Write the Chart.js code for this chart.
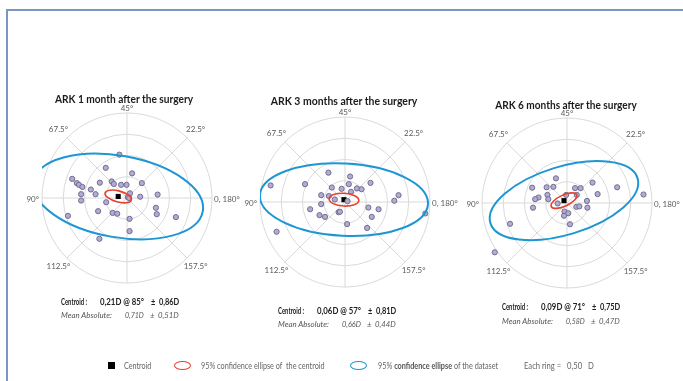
<!DOCTYPE html>
<html>
<head>
<meta charset="utf-8">
<script src="https://cdn.jsdelivr.net/npm/chart.js@4.4.1/dist/chart.umd.min.js"></script>
<style>
  html, body { margin: 0; padding: 0; background: #fff; width: 683px; height: 381px; overflow: hidden; }
  #page { position: relative; width: 683px; height: 381px; }
  #frame { position: absolute; left: 6px; top: 9px; width: 700px; height: 400px;
           border-top: 2px solid #7a98bf; border-left: 2px solid #7a98bf; }
  canvas { position: absolute; }
  .t { position: absolute; white-space: pre; line-height: 1; }
  .title { font: bold 12px Lato, "Open Sans", sans-serif; color: #1a1a1a; transform-origin: center center; }
  .stat { font: bold 8.5px Lato, "Open Sans", sans-serif; color: #222; transform-origin: left center; }
  .mean { font: italic 8.5px Lato, "Open Sans", sans-serif; color: #555; transform-origin: left center; }
  .leg { font: 8.5px Lato, "Open Sans", sans-serif; color: #666; transform-origin: left center; }
</style>
</head>
<body>
<div id="page">
  <div id="frame"></div>
</div>
<script>
// Double-angle astigmatism plots: x = M·cos(2θ), y = M·sin(2θ), in dioptres.
const titles = ['ARK 1 month after the surgery', 'ARK 3 months after the surgery', 'ARK 6 months after the surgery'];

// Individual eyes, 1 month
const m1X = [-0.18,-0.50,0.12,-1.29,-1.18,-1.13,-1.05,-0.64,-0.36,-0.31,-0.14,-0.01,0.35,-0.85,-0.74,-1.08,-1.08,0.07,0.02,0.05,0.31,0.72,-0.49,0.68,0.70,1.15,-0.68,-0.34,-0.23,0.06,0.06,-1.39,-0.65];
const m1Y = [1.02,0.71,0.58,0.45,0.35,0.31,0.26,0.36,0.39,0.33,0.31,0.31,0.35,0.20,0.09,0.09,-0.06,0.11,0.02,0.00,0.03,0.08,-0.10,-0.23,-0.38,-0.45,-0.31,-0.35,-0.37,-0.49,-0.78,-0.42,-0.96];
// Individual eyes, 3 months
const m3X = [-1.75,-0.39,-0.94,0.12,0.60,-0.31,-0.08,0.09,0.28,0.39,0.14,1.26,1.16,1.89,-0.56,-0.38,-0.24,-0.56,-0.82,0.06,0.55,0.79,0.63,-0.60,-0.47,-0.15,-0.12,0.05,0.52,-1.61];
const m3Y = [0.39,0.69,0.42,0.60,0.45,0.34,0.31,0.42,0.32,0.30,0.24,0.16,0.03,-0.27,0.16,0.14,0.06,-0.05,-0.17,0.02,-0.13,-0.17,-0.35,-0.31,-0.35,-0.24,-0.23,-0.52,-0.61,-0.70];
// Individual eyes, 6 months
const m6X = [-0.26,-0.82,-0.48,-0.32,0.19,0.32,0.60,1.18,1.80,0.72,-0.67,-0.75,-0.46,-0.44,-0.02,0.23,-0.80,-0.22,0.22,0.29,0.47,0.48,-0.06,0.03,-0.07,0.07,-1.34,-1.70];
const m6Y = [0.58,0.36,0.37,0.38,0.35,0.35,0.48,0.37,0.20,0.21,0.13,0.09,0.19,0.09,0.19,0.19,-0.11,-0.01,-0.09,-0.08,0.05,-0.11,-0.20,-0.24,-0.30,-0.50,-0.49,-1.16];

// Centroid magnitude (D), axis (deg) and spread (D)
const centroidMag = [0.21, 0.06, 0.09];
const centroidAxis = [85, 57, 71];
const centroidSd = [0.86, 0.81, 0.75];
// Mean absolute astigmatism and its SD (D)
const meanAbs = [0.71, 0.66, 0.58];
const meanAbsSd = [0.51, 0.44, 0.47];

// 95% confidence ellipses: semi-axes (D) and tilt (deg, counter-clockwise)
const dataEllA = [2.02, 1.98, 1.81];
const dataEllB = [0.96, 0.85, 0.80];
const dataEllTilt = [-10, -3, 17];
const cenEllA = [0.32, 0.35, 0.33];
const cenEllB = [0.13, 0.15, 0.13];
const cenEllTilt = [-15, -3, 25];

// Polar grid
const ringStep = 0.5;
const ringCount = 4;
const axisLabels = ['0, 180°', '22.5°', '45°', '67.5°', '90°', '112.5°', '157.5°'];
const axisLabelDeg = [0, 22.5, 45, 67.5, 90, 112.5, 157.5];

const ptsX = [m1X, m3X, m6X];
const ptsY = [m1Y, m3Y, m6Y];

// layout of the three panels
const centers = [[127, 197.5], [345, 202], [567, 203]];
const titlePos = [[124, 98, 138], [344, 100, 147], [566, 104, 142]];
const statPos = [[61, 302, 315], [278, 311, 324], [502, 307, 321]];
const R = 85, PAD = 45;

const fmt = v => v.toFixed(2).replace('.', ',');
const page = document.getElementById('page');

// place a text run; when a width is given the run is condensed to that width
function addText(cls, x, y, txt, width, centered) {
  const d = document.createElement('div');
  d.className = 't ' + cls;
  d.style.left = x + 'px';
  d.style.top = y + 'px';
  if (txt.indexOf('<') >= 0) d.innerHTML = txt; else d.textContent = txt;
  page.appendChild(d);
  const s = width ? width / d.offsetWidth : 1;
  d.style.transform = (centered ? 'translate(-50%, -50%)' : 'translateY(-50%)') + ' scaleX(' + s + ')';
  return d;
}

const polarGrid = {
  id: 'polarGrid',
  beforeDatasetsDraw(chart) {
    const { ctx, scales: { x, y } } = chart;
    const cx = x.getPixelForValue(0), cy = y.getPixelForValue(0);
    const ppd = x.getPixelForValue(1) - cx;
    const outer = ringStep * ringCount * ppd;
    ctx.save();
    ctx.strokeStyle = '#d9d9d9';
    ctx.lineWidth = 1;
    for (let i = 1; i <= ringCount; i++) {
      ctx.beginPath();
      ctx.arc(cx, cy, ringStep * i * ppd, 0, Math.PI * 2);
      ctx.stroke();
    }
    for (let k = 0; k < 4; k++) {
      const a = k * Math.PI / 4;
      ctx.beginPath();
      ctx.moveTo(cx - outer * Math.cos(a), cy + outer * Math.sin(a));
      ctx.lineTo(cx + outer * Math.cos(a), cy - outer * Math.sin(a));
      ctx.stroke();
    }
    ctx.fillStyle = '#5a5a5a';
    ctx.font = '8px Lato, "Open Sans", sans-serif';
    axisLabels.forEach((lab, i) => {
      const a = axisLabelDeg[i] * 2 * Math.PI / 180;
      if (axisLabelDeg[i] === 0) {
        ctx.textAlign = 'left'; ctx.textBaseline = 'middle';
        ctx.fillText(lab, cx + outer + 2, cy + 1);
      } else if (axisLabelDeg[i] === 90) {
        ctx.textAlign = 'right'; ctx.textBaseline = 'middle';
        ctx.fillText(lab, cx - outer - 3, cy + 1);
      } else if (axisLabelDeg[i] === 45) {
        ctx.textAlign = 'center'; ctx.textBaseline = 'bottom';
        ctx.fillText(lab, cx, cy - outer - 1);
      } else {
        const rr = outer + 12;
        ctx.textAlign = 'center'; ctx.textBaseline = 'middle';
        ctx.fillText(lab, cx + rr * Math.cos(a), cy - rr * Math.sin(a));
      }
    });
    ctx.restore();
  },
  afterDatasetDraw(chart, args, opts) {
    if (args.index !== 0) return;
    const { ctx, chartArea, scales: { x, y } } = chart;
    const k = opts.panel;
    const ppd = x.getPixelForValue(1) - x.getPixelForValue(0);
    const a2 = centroidAxis[k] * 2 * Math.PI / 180;
    const ex = x.getPixelForValue(centroidMag[k] * Math.cos(a2));
    const ey = y.getPixelForValue(centroidMag[k] * Math.sin(a2));
    ctx.save();
    ctx.beginPath();
    ctx.rect(chartArea.left, chartArea.top, chartArea.right - chartArea.left, chartArea.bottom - chartArea.top);
    ctx.clip();
    const ell = (A, B, tilt, color, w) => {
      ctx.beginPath();
      ctx.ellipse(ex, ey, A * ppd, B * ppd, -tilt * Math.PI / 180, 0, Math.PI * 2);
      ctx.strokeStyle = color;
      ctx.lineWidth = w;
      ctx.stroke();
    };
    ell(dataEllA[k], dataEllB[k], dataEllTilt[k], '#1e96d3', 2);
    ell(cenEllA[k], cenEllB[k], cenEllTilt[k], '#e8402b', 1.6);
    ctx.restore();
  }
};

centers.forEach(([cx, cy], k) => {
  const cv = document.createElement('canvas');
  const size = 2 * (R + PAD);
  cv.width = size; cv.height = size;
  cv.style.left = (cx - R - PAD) + 'px';
  cv.style.top = (cy - R - PAD) + 'px';
  cv.style.width = size + 'px'; cv.style.height = size + 'px';
  page.appendChild(cv);
  const outerD = ringStep * ringCount;
  const a2 = centroidAxis[k] * 2 * Math.PI / 180;
  new Chart(cv, {
    type: 'scatter',
    data: {
      datasets: [
        {
          data: ptsX[k].map((v, i) => ({ x: v, y: ptsY[k][i] })),
          pointRadius: 2.6,
          backgroundColor: '#b1acd0',
          borderColor: '#716c93',
          borderWidth: 1
        },
        {
          data: [{ x: centroidMag[k] * Math.cos(a2), y: centroidMag[k] * Math.sin(a2) }],
          pointStyle: 'rect',
          pointRadius: 3.6,
          backgroundColor: '#000',
          borderColor: '#000',
          borderWidth: 0
        }
      ]
    },
    options: {
      responsive: false,
      animation: false,
      devicePixelRatio: 1,
      layout: { padding: PAD },
      scales: {
        x: { type: 'linear', min: -outerD, max: outerD, display: false },
        y: { type: 'linear', min: -outerD, max: outerD, display: false }
      },
      plugins: {
        legend: { display: false },
        tooltip: { enabled: false },
        polarGrid: { panel: k }
      },
      events: []
    },
    plugins: [polarGrid]
  });

  addText('title', titlePos[k][0], titlePos[k][1], titles[k], titlePos[k][2], true);
  const [sx, sy1, sy2] = statPos[k];
  addText('stat', sx, sy1, 'Centroid :', 26);
  addText('stat', sx + 39, sy1, fmt(centroidMag[k]) + 'D @ ' + centroidAxis[k] + '°', 44);
  addText('stat', sx + 90, sy1, '±  ' + fmt(centroidSd[k]) + 'D', 28);
  addText('mean', sx, sy2, 'Mean Absolute:', 51);
  addText('mean', sx + 64, sy2, fmt(meanAbs[k]) + 'D', 19);
  addText('mean', sx + 89, sy2, '±  ' + fmt(meanAbsSd[k]) + 'D', 29);
});

// legend row
const ly = 366;
const sq = document.createElement('div');
Object.assign(sq.style, { position: 'absolute', left: '108px', top: (ly - 4) + 'px', width: '7px', height: '7px', background: '#000' });
page.appendChild(sq);
addText('leg', 124, ly, 'Centroid', 27);
const ring = (cx, color) => {
  const e = document.createElement('div');
  Object.assign(e.style, { position: 'absolute', left: (cx - 9) + 'px', top: (ly - 5) + 'px', width: '15px', height: '7px',
    border: '1.5px solid ' + color, borderRadius: '50%' });
  page.appendChild(e);
};
ring(183, '#e8402b');
addText('leg', 201, ly, '95% confidence ellipse of  the centroid', 124);
ring(359, '#1e96d3');
addText('leg', 378, ly, '95% <b style="color:#555">confidence ellipse</b> of the dataset', 120);
addText('leg', 524, ly, 'Each ring =   0,50   D', 70);
</script>
</body>
</html>
